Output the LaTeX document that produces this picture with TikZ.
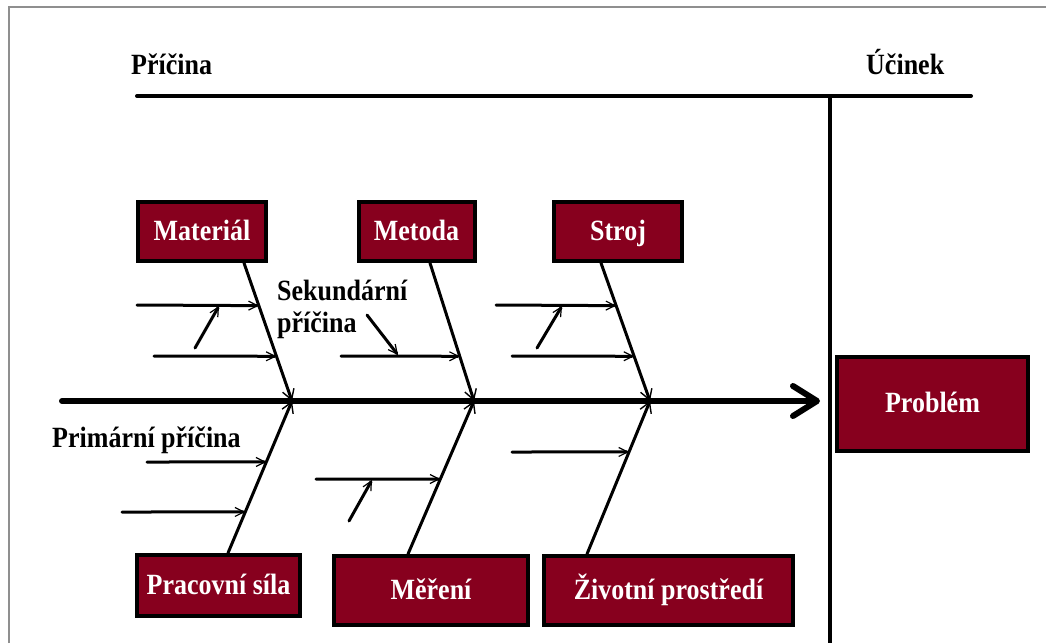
\documentclass[tikz,border=0pt]{standalone}
\usepackage{fontspec}
\usepackage{graphicx}
\setmainfont{Liberation Serif}
\usetikzlibrary{arrows.meta,calc}
\definecolor{boxred}{RGB}{135,0,30}
% slightly tall lettering
\newcommand\tallt[1]{\scalebox{1}[1.13]{#1}}
\tikzset{
  txt/.style={font=\bfseries\fontsize{26}{30}\selectfont, inner sep=0pt},
  cat/.style={draw=black, line width=4pt, fill=boxred, text=white,
              font=\bfseries\fontsize{26}{30}\selectfont, inner sep=0pt,
              text height=22pt, text depth=5pt},
  bone/.style={line width=3pt, line cap=round,
               -{Straight Barb[length=10pt,width=12pt,line width=1.4pt]}},
  sub/.style={line width=3pt, line cap=round,
              -{Straight Barb[length=9pt,width=9pt,line width=1.2pt]}},
  spine/.style={line width=6pt, line cap=round,
                -{Straight Barb[length=24pt,width=30pt,round]}},
  rule/.style={line width=4pt, line cap=round}
}
\begin{document}
\begin{tikzpicture}[x=1pt,y=-1pt]
\useasboundingbox (0,0) rectangle (1046,643);

% open frame
\draw[gray!90!black!80, line width=2pt] (9,643) -- (9,7) -- (1046,7);

% headings and the cause / effect rules
\node[txt, anchor=base west] (cause) at (131,74) {\tallt{Příčina}};
\node[txt, anchor=base west] (effect) at (866,74) {\tallt{Účinek}};
\coordinate (rl) at (137,96);
\coordinate (rr) at (971,96);
\coordinate (vt) at (830,96);
\coordinate (vb) at (830,643);
\draw[rule] (rl) -- (rr);
\draw[line width=3.5pt] (vt) -- (vb);

% category boxes
\node[cat, minimum width=128pt, minimum height=59pt] (mat) at (202,231.5) {\tallt{Materiál}};
\node[cat, minimum width=116pt, minimum height=59pt] (met) at (416.5,231.5) {\tallt{Metoda}};
\node[cat, minimum width=128pt, minimum height=59pt] (str) at (618,231.5) {\tallt{Stroj}};
\node[cat, minimum width=163pt, minimum height=61pt] (prac) at (218.5,585.5) {\tallt{Pracovní síla}};
\node[cat, minimum width=194pt, minimum height=69pt] (mer) at (431,590.5) {\tallt{Měření}};
\node[cat, minimum width=249pt, minimum height=69pt] (ziv) at (668.5,590.5) {\tallt{Životní prostředí}};
\node[cat, minimum width=191pt, minimum height=94pt] (prob) at (932.5,404) {\tallt{Problém}};

% spine
\coordinate (tail) at (62,401);
\coordinate (head) at (820,401);
\draw[spine] (tail) -- (head);

% junctions on the spine
\coordinate (J1) at (292,401);
\coordinate (J2) at (474,401);
\coordinate (J3) at (650,401);

% bone roots at the boxes
\coordinate (matB) at (244,263);
\coordinate (metB) at (430,263);
\coordinate (strB) at (601,263);
\coordinate (pracB) at (228,553);
\coordinate (merB) at (408,554);
\coordinate (zivB) at (587,554);

% main bones
\draw[bone] (matB) -- (J1);
\draw[bone] (pracB) -- (J1);
\draw[bone] (metB) -- (J2);
\draw[bone] (merB) -- (J2);
\draw[bone] (strB) -- (J3);
\draw[bone] (zivB) -- (J3);

% primary causes
\coordinate (m1) at (137,305);
\coordinate (m2) at (154,356);
\coordinate (e1) at (341,356);
\coordinate (s1) at (496,305);
\coordinate (s2) at (512,356);
\coordinate (p1) at (147,462);
\coordinate (p2) at (122,512);
\coordinate (r1) at (316,479);
\coordinate (z1) at (512,452);
\draw[sub] (m1) -- ($(matB)!0.309!(J1)$);
\draw[sub] (m2) -- ($(matB)!0.676!(J1)$);
\draw[sub] (e1) -- ($(metB)!0.676!(J2)$);
\draw[sub] (s1) -- ($(strB)!0.309!(J3)$);
\draw[sub] (s2) -- ($(strB)!0.676!(J3)$);
\draw[sub] (p1) -- ($(pracB)!0.599!(J1)$);
\draw[sub] (p2) -- ($(pracB)!0.270!(J1)$);
\draw[sub] (r1) -- ($(merB)!0.490!(J2)$);
\draw[sub] (z1) -- ($(zivB)!0.667!(J3)$);

% secondary causes
\coordinate (t1a) at (195,348); \coordinate (t1b) at (219,306);
\coordinate (t2a) at (537,348); \coordinate (t2b) at (562,306);
\coordinate (t3a) at (349,521); \coordinate (t3b) at (372,480);
\draw[sub] (t1a) -- (t1b);
\draw[sub] (t2a) -- (t2b);
\draw[sub] (t3a) -- (t3b);

% labels
\node[txt, anchor=base west] (sek) at (277,300) {\tallt{Sekundární}};
\node[txt, anchor=base west] (sek2) at (277,332) {\tallt{příčina}};
\coordinate (la) at (367,315);
\coordinate (lb) at (398,355);
\draw[sub] (la) -- (lb);
\node[txt, anchor=base west] (prim) at (52,447) {\tallt{Primární příčina}};
\end{tikzpicture}
\end{document}
